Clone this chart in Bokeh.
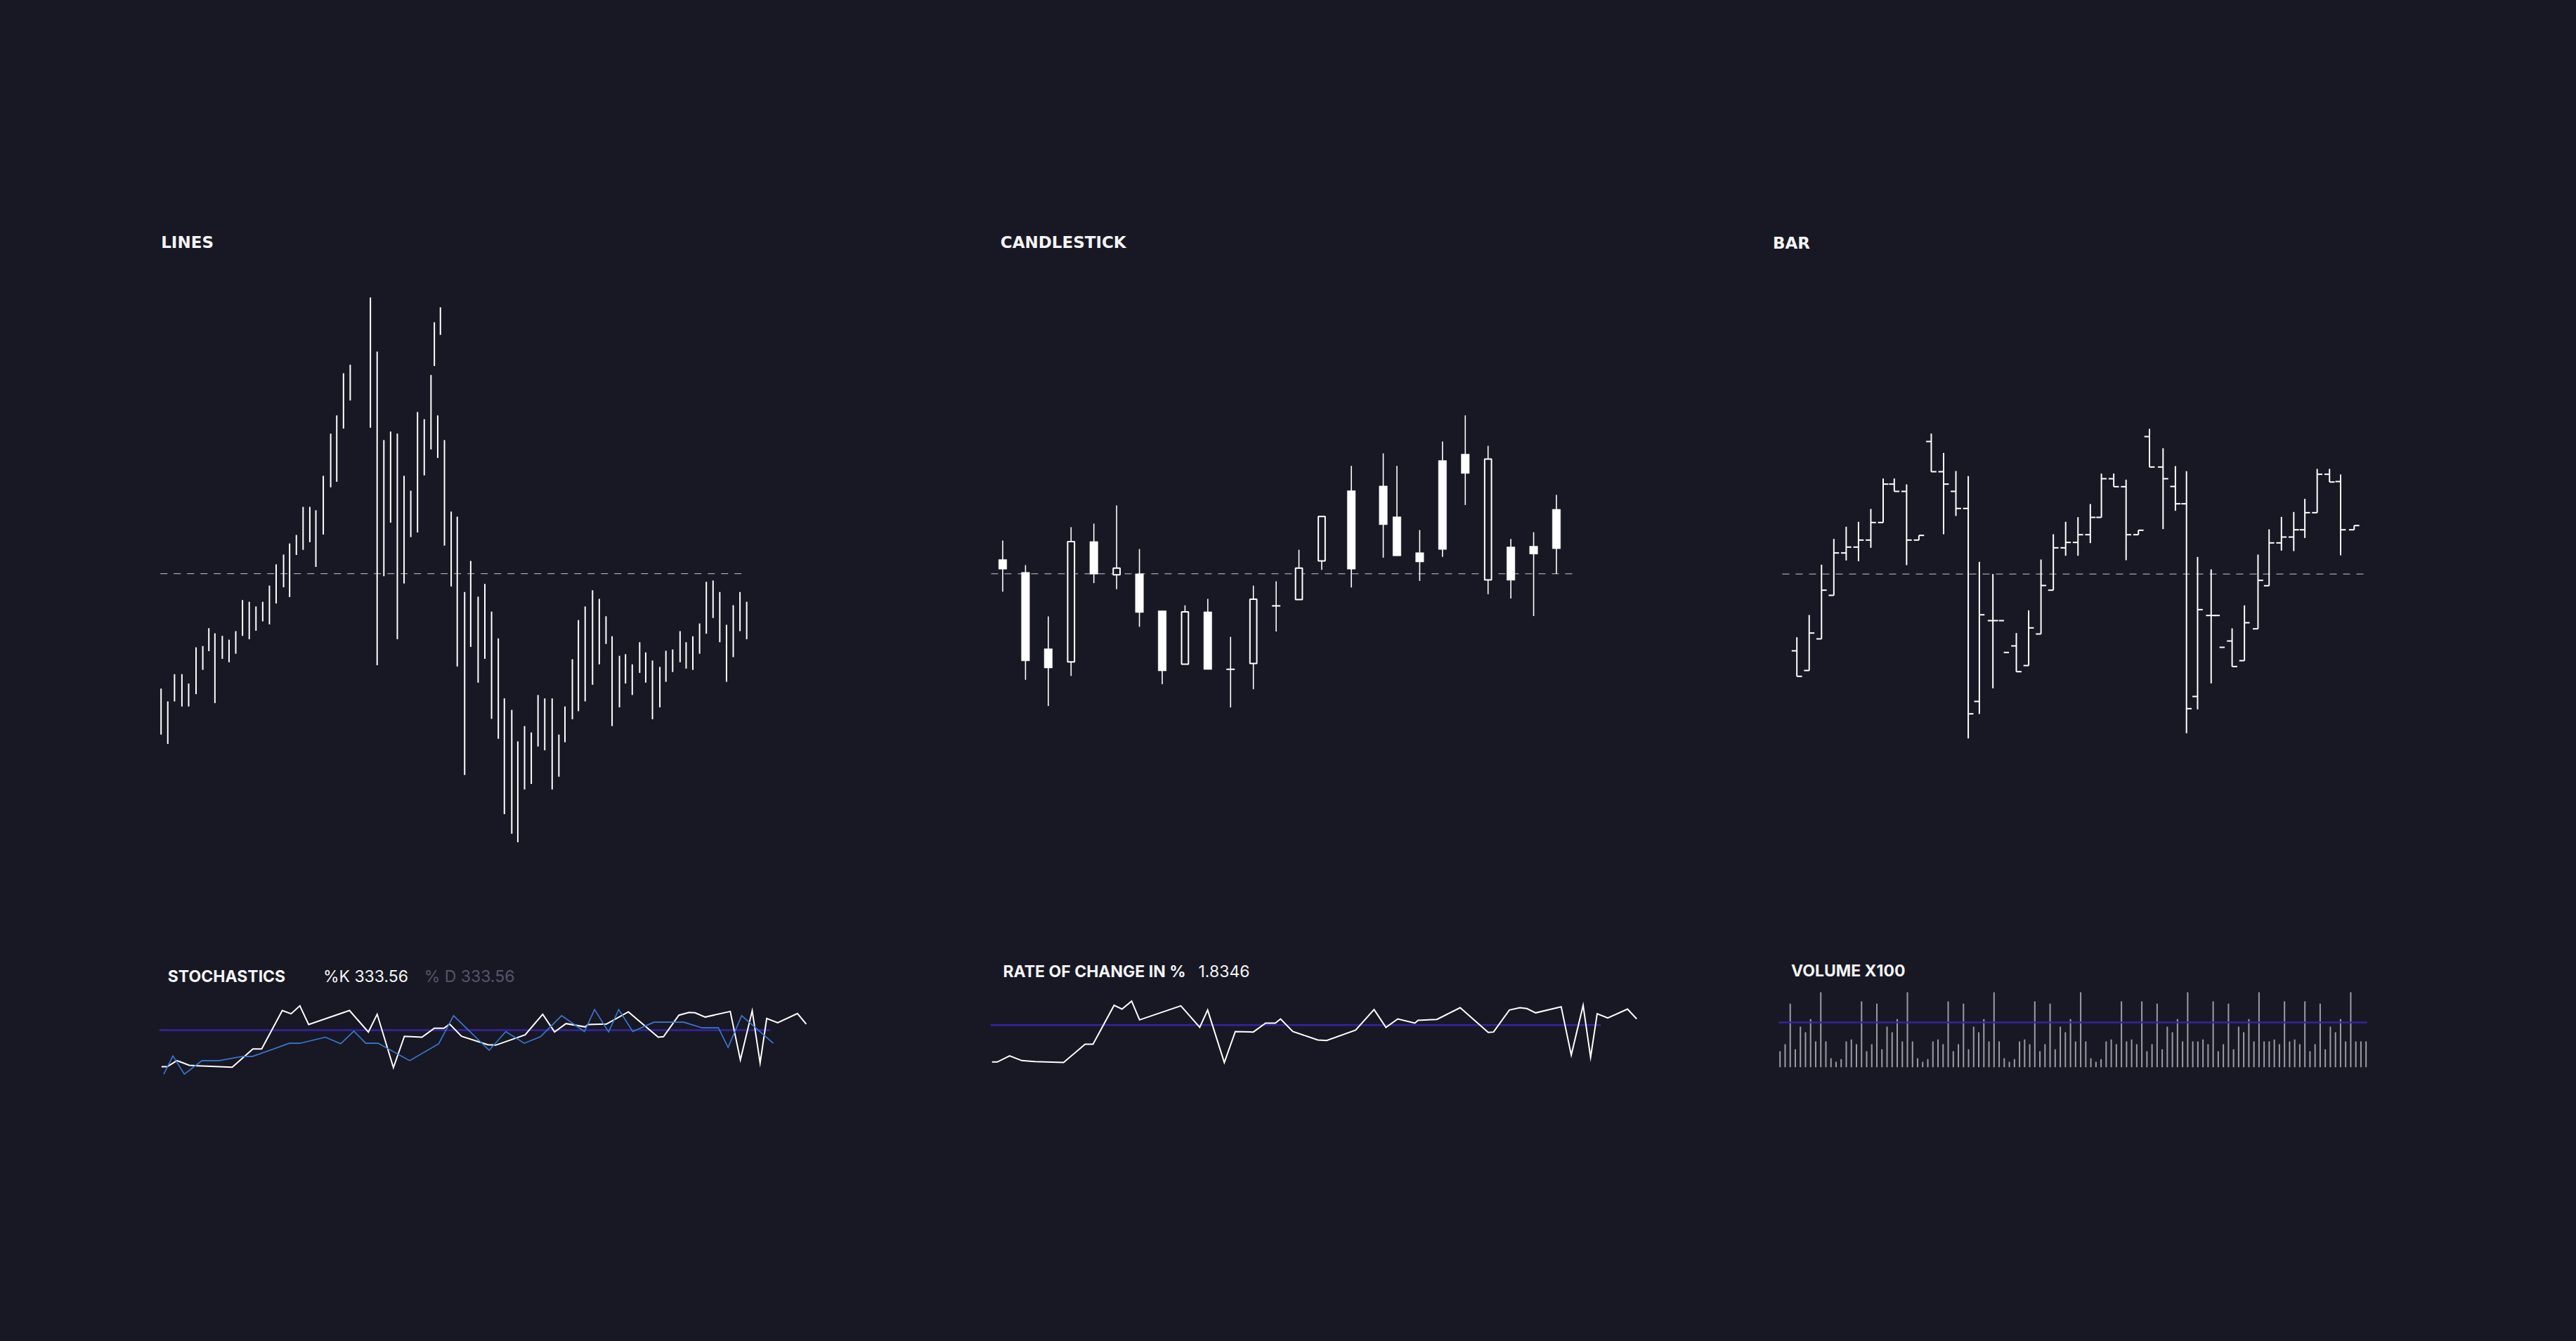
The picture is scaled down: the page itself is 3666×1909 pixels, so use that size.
import numpy as np
from bokeh.plotting import figure
from bokeh.layouts import column, row
from bokeh.models import Spacer, Label, ColumnDataSource, Range1d
from bokeh.embed import file_html
from bokeh.resources import INLINE

BG = "#181824"
WHITE = "#ffffff"
DASH = "#c9c9d1"
PURPLE = "#3423a6"
BLUE = "#3a7bd5"
GREY_TXT = "#55556a"
VOL_GREY = "#9a9aa3"
nan = float("nan")

# ---------------- LINES (high-low bars) ----------------
lines_x = [0.0, 1.0, 2.0, 3.1, 4.1, 5.2, 6.2, 7.1, 8.0, 9.1,
           10.1, 11.1, 12.1, 13.1, 14.1, 15.1, 16.1, 17.1, 18.2, 19.1,
           20.1, 21.1, 22.1, 23.0, 24.1, 25.2, 26.1, 27.1, 28.1, 31.1,
           32.1, 33.1, 34.1, 35.1, 36.1, 37.1, 38.1, 39.1, 40.1, 40.6,
           41.1, 41.5, 42.1, 43.1, 44.0, 45.1, 46.0, 47.1, 48.1, 49.1,
           50.1, 51.0, 52.1, 53.0, 54.0, 55.0, 56.0, 57.0, 58.1, 59.1,
           60.0, 61.1, 62.0, 63.0, 64.1, 65.1, 66.1, 67.0, 68.1, 69.0,
           70.0, 71.1, 72.0, 73.0, 74.1, 75.0, 76.0, 77.1, 78.0, 79.0,
           80.0, 81.0, 82.0, 83.0, 84.0, 85.0, 86.0, 87.0]
lines_high = [87.8, 84.8, 91.2, 91.2, 89.0, 97.5, 97.8, 102.0, 100.8, 100.2,
              99.3, 101.3, 108.6, 108.2, 107.1, 108.2, 112.0, 117.0, 119.3, 121.9,
              123.9, 130.5, 130.5, 129.7, 137.8, 147.7, 152.0, 161.9, 163.9, 179.7,
              167.0, 146.2, 148.2, 147.7, 137.8, 134.3, 152.8, 151.1, 161.5, 173.9,
              152.0, 177.4, 146.2, 129.4, 128.2, 110.5, 117.8, 109.4, 112.4, 105.9,
              99.6, 85.5, 82.8, 75.4, 79.0, 77.5, 86.3, 85.5, 85.5, 77.0,
              83.6, 94.7, 103.9, 107.1, 110.9, 108.9, 104.8, 100.1, 95.5, 95.9,
              93.5, 98.7, 96.3, 94.4, 92.9, 96.7, 97.0, 101.3, 98.7, 100.1,
              103.1, 112.9, 113.2, 110.5, 102.8, 107.4, 110.5, 108.2]
lines_low = [77.0, 74.8, 84.8, 83.6, 83.6, 86.5, 92.2, 96.6, 84.4, 94.8,
             94.0, 96.0, 100.2, 99.4, 101.4, 103.6, 102.9, 107.8, 111.6, 109.3,
             119.2, 120.4, 122.2, 116.4, 124.0, 135.1, 136.4, 148.9, 155.5, 149.1,
             93.3, 114.2, 126.8, 99.4, 112.5, 123.4, 124.5, 137.9, 144.0, 163.6,
             142.0, 170.9, 121.4, 111.8, 93.0, 67.5, 97.6, 89.2, 94.8, 80.7,
             76.0, 58.3, 53.7, 51.7, 64.1, 65.4, 74.2, 73.3, 64.1, 67.1,
             75.2, 80.6, 82.5, 84.8, 88.7, 93.5, 98.3, 79.0, 83.4, 89.0,
             86.3, 91.5, 89.2, 80.6, 83.4, 89.4, 91.7, 94.0, 92.5, 92.2,
             96.0, 100.7, 104.4, 98.7, 89.4, 95.2, 101.3, 99.4]
LINES_REF = 114.8

# ---------------- CANDLESTICK ----------------
candle_x = [0.0, 1.0, 2.0, 3.0, 4.0, 5.0, 6.0, 7.0, 8.0, 9.0, 10.0, 11.0, 12.0,
            13.0, 14.0, 15.3, 16.7, 17.3, 18.3, 19.3, 20.3, 21.3, 22.3, 23.3, 24.3]
candle_open = [102.8, 99.2, 77.9, 74.2, 107.8, 98.5, 98.8, 88.5, 73.6, 88.2, 72.3, 73.8, 90.0,
               91.6, 102.4, 122.0, 123.3, 114.7, 104.7, 130.4, 132.2, 97.1, 106.3, 106.5, 116.8]
candle_high = [108.1, 101.2, 86.9, 111.8, 112.8, 117.9, 105.7, 88.5, 90.0, 91.8, 81.2, 95.5, 96.7,
               105.5, 114.8, 128.9, 132.4, 128.9, 111.0, 135.7, 143.0, 134.5, 108.5, 110.4, 120.8]
candle_low = [93.8, 69.2, 61.9, 70.3, 96.2, 94.5, 84.0, 68.0, 73.5, 72.1, 61.5, 66.6, 82.7,
              91.6, 99.9, 95.0, 103.3, 103.8, 96.8, 103.5, 118.0, 93.1, 91.9, 87.0, 98.8]
candle_close = [100.1, 74.5, 72.5, 107.8, 98.7, 100.4, 88.0, 71.7, 88.2, 72.1, 72.0, 91.7, 89.7,
                100.4, 114.8, 100.1, 112.5, 103.8, 102.1, 105.6, 126.8, 130.8, 97.0, 104.3, 105.8]
CANDLE_REF = 98.8

# ---------------- BAR (OHLC) ----------------
bar_x = [0.0, 1.0, 2.0, 3.0, 4.0, 5.0, 6.0, 7.0, 7.9, 8.9,
         9.9, 10.9, 11.9, 12.9, 13.9, 14.8, 15.9, 16.8, 17.2, 17.8,
         18.8, 19.8, 20.8, 21.8, 22.8, 23.8, 24.7, 25.7, 26.7, 27.7,
         28.6, 29.7, 30.7, 31.6, 32.5, 33.6, 34.3, 34.7, 35.3, 36.3,
         37.4, 38.3, 39.3, 40.3, 41.2, 42.2, 43.2, 44.1, 45.2]
bar_high = [105.0, 114.5, 136.0, 147.0, 152.2, 154.3, 159.8, 172.8, 172.8, 170.3,
            148.5, 192.0, 183.7, 176.0, 173.8, 137.2, 132.0, nan, nan, 106.8,
            116.5, 138.2, 149.0, 154.3, 156.3, 161.9, 174.9, 174.9, 172.3, 150.7,
            194.0, 185.7, 178.1, 175.9, 139.3, 134.0, nan, nan, 108.8, 118.6,
            140.3, 151.1, 156.4, 158.5, 164.1, 176.9, 176.9, 174.5, 152.7]
bar_low = [88.3, 90.8, 104.3, 122.9, 137.8, 137.5, 143.2, 154.0, 167.3, 135.8,
           146.5, 175.7, 149.0, 156.8, 61.8, 72.2, 83.2, nan, nan, 90.3,
           92.9, 106.4, 125.1, 139.8, 139.8, 145.2, 156.2, 169.3, 137.9, 148.8,
           177.7, 151.2, 159.0, 64.0, 74.2, 85.3, nan, nan, 92.5, 95.0,
           108.6, 127.0, 142.0, 141.8, 147.4, 158.2, 171.3, 140.0, 150.9]
bar_open = [99.2, 90.8, 104.3, 122.9, 141.0, 143.5, 146.5, 154.0, 170.4, 167.3,
            146.5, 188.6, 175.7, 167.3, 160.0, 77.6, 112.1, 112.1, 98.5, 101.3,
            92.9, 106.4, 125.1, 143.2, 145.5, 148.8, 156.2, 172.7, 169.3, 148.8,
            190.7, 177.7, 169.4, 162.0, 79.7, 114.3, 114.3, 100.7, 103.4, 95.0,
            108.6, 127.0, 145.3, 147.8, 150.9, 158.2, 174.6, 171.5, 150.9]
bar_close = [88.3, 106.8, 125.1, 141.0, 143.5, 146.5, 154.0, 170.4, 167.3, 146.5,
             148.5, 175.7, 170.4, 160.0, 72.3, 114.6, 112.1, nan, nan, 90.3,
             109.0, 127.1, 143.2, 145.5, 148.8, 156.2, 172.7, 169.3, 148.8, 150.7,
             177.7, 172.7, 162.0, 74.5, 116.8, 114.3, nan, nan, 92.5, 111.2,
             129.3, 145.3, 147.8, 150.9, 158.2, 174.6, 171.3, 150.9, 152.7]
BAR_REF = 132.0

# ---------------- STOCHASTICS ----------------
k_x = [4.7, 6.0, 8.2, 11.0, 13.0, 20.8, 25.5, 27.5, 32.2, 34.2, 36.2, 38.2, 47.5, 51.8, 53.8,
       57.5, 60.0, 64.0, 66.8, 69.0, 70.3, 73.0, 79.0, 80.8, 87.5, 91.5, 94.2, 96.8, 101.2,
       101.8, 106.0, 111.0, 117.8, 119.0, 122.5, 124.8, 126.2, 128.5, 134.2, 136.5, 139.2,
       141.0, 142.5, 145.0, 149.5, 151.5]
k_y = [18.8, 18.8, 24.0, 20.0, 19.6, 18.4, 34.0, 34.0, 66.8, 64.0, 70.8, 54.8, 66.8, 48.4, 63.6,
       18.0, 44.8, 44.0, 51.6, 51.6, 55.2, 44.8, 37.6, 37.2, 46.0, 63.6, 48.4, 55.6, 52.8,
       54.8, 55.2, 65.6, 44.0, 44.4, 62.8, 65.2, 64.8, 61.2, 66.0, 24.6, 66.6,
       22.0, 60.0, 56.4, 64.2, 55.2]
d_x = [5.2, 7.3, 9.9, 13.9, 17.8, 23.2, 25.4, 30.0, 33.8, 36.2, 42.0, 45.5, 48.5, 51.2, 54.0,
       61.2, 67.8, 71.2, 79.3, 83.1, 87.3, 91.0, 95.8, 101.0, 103.3, 106.5, 108.8, 112.0,
       116.8, 123.6, 127.8, 131.5, 133.7, 136.8, 144.0]
d_y = [12.4, 28.0, 12.4, 24.0, 24.0, 27.6, 27.6, 33.6, 38.8, 38.8, 44.0, 38.4, 49.2, 38.8, 38.8,
       24.0, 38.4, 62.4, 32.8, 48.8, 38.8, 44.4, 62.4, 48.8, 67.6, 48.4, 67.6, 48.8,
       56.8, 56.8, 52.0, 52.0, 35.2, 62.4, 38.8]
STOCH_MID = 50.0

# ---------------- RATE OF CHANGE ----------------
roc_x = [5.0, 6.2, 9.0, 11.8, 14.8, 21.3, 26.2, 28.0, 32.8, 34.6, 36.8, 38.6, 48.0, 52.3, 54.1,
         57.9, 60.4, 64.5, 67.3, 69.5, 70.7, 73.5, 79.2, 81.2, 87.8, 92.0, 94.7, 97.4, 101.3,
         102.0, 106.3, 111.6, 118.0, 119.2, 122.8, 125.2, 126.8, 128.8, 134.6, 136.9, 139.6,
         141.3, 142.8, 145.2, 149.7, 151.8]
roc_y = [-3.16, -3.16, -2.64, -3.04, -3.12, -3.20, -1.64, -1.64, 1.68, 1.36, 2.04, 0.44, 1.64, -0.20, 1.28,
         -3.20, -0.56, -0.60, 0.16, 0.16, 0.52, -0.56, -1.28, -1.32, -0.44, 1.32, -0.20, 0.52, 0.16,
         0.40, 0.48, 1.48, -0.64, -0.60, 1.28, 1.48, 1.40, 1.04, 1.56, -2.56, 1.68,
         -2.76, 0.96, 0.60, 1.36, 0.52]
ROC_ZERO = 0.0

# ---------------- VOLUME ----------------
volume = [68, 98, 271, 76, 173, 149, 205, 110, 320, 110, 38, 23, 34, 110, 118, 98, 281,
          68, 98, 271, 76, 173, 149, 205, 110, 320, 110, 38, 23, 34, 110, 118, 98, 281,
          68, 98, 271, 76, 173, 149, 205, 110, 320, 110, 38, 23, 34, 110, 118, 98, 281,
          68, 98, 271, 76, 173, 149, 205, 110, 320, 110, 38, 23, 34, 110, 118, 98, 281,
          110, 118, 98, 281,
          68, 98, 271, 76, 173, 149, 205, 110, 320, 110, 110, 118, 98, 281,
          68, 98, 271, 76, 173, 149, 205, 110, 320, 110, 110, 118, 98, 281,
          110, 118, 98, 281,
          68, 98, 271, 76, 173, 149, 205, 110, 320, 110, 110, 110]
VOL_AVG = 191


def make_fig(w, h, xr, yr):
    p = figure(width=w, height=h, x_range=Range1d(*xr), y_range=Range1d(*yr),
               output_backend="svg", toolbar_location=None, min_border=0,
               x_axis_location=None, y_axis_location=None,
               background_fill_color=BG, border_fill_color=BG, outline_line_color=None)
    p.xgrid.visible = False
    p.ygrid.visible = False
    p.title.visible = False
    return p


def title(p, x, y, text):
    p.add_layout(Label(x=x, y=y, text=text, text_font="DejaVu Sans", text_font_size="23px",
                       text_font_style="bold", text_color="#f4f4f6", text_baseline="alphabetic"))


def sub_label(p, x, y, text, color="#f4f4f6", bold=False):
    p.add_layout(Label(x=x, y=y, text=text, text_font="Inter", text_font_size="23px",
                       text_font_style="bold" if bold else "normal", text_color=color,
                       text_baseline="alphabetic"))


# LINES panel
p1 = make_fig(900, 950, (-2.996, 90.95), (43.2, 200.0))
p1.segment(x0=[-0.1], y0=[LINES_REF], x1=[87.0], y1=[LINES_REF], line_color=DASH,
           line_width=1, line_dash="10 9")
src1 = ColumnDataSource(dict(x=lines_x, hi=lines_high, lo=lines_low))
p1.segment(x0="x", y0="lo", x1="x", y1="hi", source=src1, line_color=WHITE, line_width=2)
title(p1, 0.0, 192.7, "LINES")

# CANDLESTICK panel
p2 = make_fig(900, 950, (-1.434, 26.32), (13.8, 200.0))
p2.segment(x0=[-0.51], y0=[CANDLE_REF], x1=[25.2], y1=[CANDLE_REF], line_color=DASH,
           line_width=1, line_dash="10 9")
co = np.array(candle_open); cc = np.array(candle_close)
src2 = ColumnDataSource(dict(x=candle_x, hi=candle_high, lo=candle_low,
                             top=np.maximum(co, cc), bot=np.minimum(co, cc)))
p2.segment(x0="x", y0="lo", x1="x", y1="hi", source=src2, line_color=WHITE, line_width=1.6)
up = cc > co
src_up = ColumnDataSource(dict(x=np.array(candle_x)[up], top=np.maximum(co, cc)[up],
                               bot=np.minimum(co, cc)[up]))
src_dn = ColumnDataSource(dict(x=np.array(candle_x)[~up], top=np.maximum(co, cc)[~up],
                               bot=np.minimum(co, cc)[~up]))
p2.vbar(x="x", top="top", bottom="bot", width=0.355, source=src_dn, fill_color=WHITE,
        line_color=WHITE, line_width=0.5)
p2.vbar(x="x", top="top", bottom="bot", width=0.30, source=src_up, fill_color=BG,
        line_color=WHITE, line_width=2)
title(p2, -0.10, 191.2, "CANDLESTICK")

# BAR panel
p3 = make_fig(950, 950, (-4.37, 49.77), (2.0, 287.0))
p3.segment(x0=[-1.18], y0=[BAR_REF], x1=[46.3], y1=[BAR_REF], line_color=DASH,
           line_width=1, line_dash="10 9")
bx = np.array(bar_x)
TICK = 0.42
src3 = ColumnDataSource(dict(x=bx, xl=bx - TICK, xr=bx + TICK,
                             hi=np.array(bar_high), lo=np.array(bar_low),
                             o=np.array(bar_open), c=np.array(bar_close)))
p3.segment(x0="x", y0="lo", x1="x", y1="hi", source=src3, line_color=WHITE, line_width=2)
p3.segment(x0="xl", y0="o", x1="x", y1="o", source=src3, line_color=WHITE, line_width=2)
p3.segment(x0="x", y0="c", x1="xr", y1="c", source=src3, line_color=WHITE, line_width=2)
title(p3, -1.95, 273.5, "BAR")

# STOCHASTICS panel
p4 = make_fig(980, 200, (0.0, 156.8), (5.6, 125.6))
p4.segment(x0=[4.2], y0=[STOCH_MID], x1=[143.3], y1=[STOCH_MID], line_color=PURPLE, line_width=2.5)
p4.line(k_x, k_y, line_color=WHITE, line_width=2, line_join="miter")
p4.line(d_x, d_y, line_color=BLUE, line_width=1.6, line_join="miter")
sub_label(p4, 6.13, 96.2, "STOCHASTICS", bold=True)
sub_label(p4, 41.5, 96.2, "%K 333.56")
sub_label(p4, 64.5, 96.2, "% D 333.56", color=GREY_TXT)

# RATE OF CHANGE panel
p5 = make_fig(980, 200, (0.0, 156.8), (-4.88, 7.12))
p5.segment(x0=[4.7], y0=[ROC_ZERO], x1=[143.6], y1=[ROC_ZERO], line_color=PURPLE, line_width=2.5)
p5.line(roc_x, roc_y, line_color=WHITE, line_width=2, line_join="miter")
sub_label(p5, 7.52, 4.58, "RATE OF CHANGE IN %", bold=True)
sub_label(p5, 52.0, 4.58, "1.8346")

# VOLUME panel
p6 = make_fig(950, 200, (-7.27, 123.73), (-64.0, 536.0))
vol_x = list(range(len(volume)))
p6.vbar(x=vol_x, top=volume, bottom=0, width=0.28, fill_color=VOL_GREY, line_color=None)
p6.segment(x0=[-0.25], y0=[VOL_AVG], x1=[115.2], y1=[VOL_AVG], line_color=PURPLE, line_width=2.5)
sub_label(p6, 2.17, 412.0, "VOLUME X100", bold=True)

top_row = row(Spacer(width=200, height=950), p1, Spacer(width=280, height=950), p2,
              Spacer(width=200, height=950), p3)
bottom_row = row(Spacer(width=200, height=200), p4, Spacer(width=200, height=200), p5,
                 Spacer(width=120, height=200), p6)
layout = column(Spacer(width=3650, height=300), top_row, Spacer(width=3650, height=90),
                bottom_row, Spacer(width=3650, height=353),
                styles={"background-color": BG})

html = file_html(layout, INLINE, title="Charts")
html = html.replace("</head>",
                    "<style>html, body {background: %s; margin: 0; padding: 0;}</style></head>" % BG, 1)
open("out.html", "w").write(html)
